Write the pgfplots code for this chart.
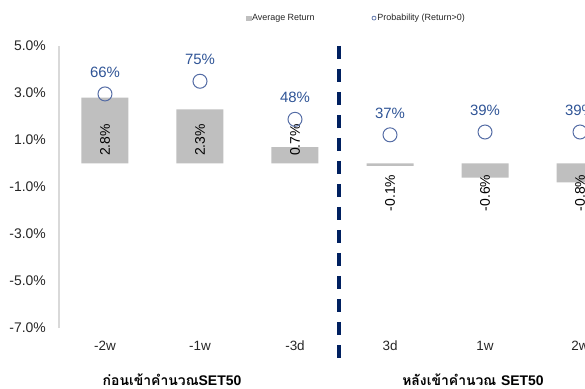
\documentclass[border=0pt]{standalone}
\usepackage{pgfplots}
\pgfplotsset{compat=1.18}
\usepackage{pgfplotstable}
\usepackage{fontspec}
\setmainfont{Liberation Sans}
\newfontfamily\thaifont[Script=Thai]{Loma}

\definecolor{barfill}{RGB}{191,191,191}
\definecolor{probblue}{RGB}{47,84,150}
\definecolor{ringblue}{RGB}{84,108,165}
\definecolor{divnavy}{RGB}{0,32,96}
\definecolor{axisgray}{RGB}{217,217,217}
\definecolor{textgray}{RGB}{38,38,38}

% x: position of the period, ret: average return (%), prob: share of positive returns (%)
\pgfplotstableread{
x ret prob
0 2.8 66
1 2.3 75
2 0.7 48
3 -0.1 37
4 -0.6 39
5 -0.8 39
}\returns

\pgfplotsset{
  common/.style={
    at={(59bp,60bp)}, anchor=south west,
    scale only axis, width=616bp, height=282bp,
    xmin=-0.484, xmax=6,
    /pgf/number format/assume math mode=true,
  },
}

\begin{document}
\begin{tikzpicture}[x=1bp,y=1bp]
\path[use as bounding box, clip] (0,0) rectangle (585,388);

% returns, on the left axis
\begin{axis}[
  common,
  ymin=-7, ymax=5,
  axis y line=left, axis x line=bottom,
  axis line style={-},
  y axis line style={draw=axisgray, line width=1.5bp},
  x axis line style={draw=none},
  ytick={-7,-5,...,5},
  xtick={0,...,5},
  xticklabels={-2w,-1w,-3d,3d,1w,2w},
  major tick length=0pt,
  yticklabel={\pgfmathprintnumber[fixed,fixed zerofill,precision=1]{\tick}\%},
  yticklabel style={font=\fontsize{14}{16}\selectfont, text=textgray, anchor=east, inner sep=0pt, xshift=-13bp},
  xticklabel style={font=\fontsize{13.5}{16}\selectfont, text=textgray, anchor=center, inner sep=0pt, yshift=-18bp},
  clip mode=individual,
  every node near coord/.append style={font=\fontsize{14}{16}\selectfont, text=black, rotate=90, inner sep=0pt},
]
\addplot[ybar, bar width=47bp, fill=barfill, draw=none] table[x=x, y=ret] {\returns};

% value labels, set just above the base of the rising bars
\addplot[draw=none, mark=none, point meta=explicit,
  restrict expr to domain={\thisrow{ret}}{0:100},
  nodes near coords={\pgfmathprintnumber[fixed,fixed zerofill,precision=1]{\pgfplotspointmeta}\%},
  every node near coord/.append style={anchor=west}]
  table[x=x, y expr=0.32, meta=ret] {\returns};

% value labels, set just below the base of the falling bars
\addplot[draw=none, mark=none, point meta=explicit,
  restrict expr to domain={\thisrow{ret}}{-100:0},
  nodes near coords={\pgfmathprintnumber[fixed,fixed zerofill,precision=1]{\pgfplotspointmeta}\%},
  every node near coord/.append style={anchor=east}]
  table[x=x, y expr=-0.47, meta=ret] {\returns};

% divider between the periods before and after inclusion
\draw[divnavy, line width=3.5bp, dash pattern=on 13bp off 10bp]
  (axis cs:2.463,5) -- (axis cs:2.463,-8.6);
\end{axis}

% probability of a positive return, on a hidden right axis
\begin{axis}[
  common,
  ymin=-100, ymax=100,
  hide axis,
  clip=false,
  legend columns=2,
  legend style={at={(0.3036,1.099)}, anchor=west, draw=none, fill=none,
    inner sep=0pt, font=\fontsize{9}{11}\selectfont, text=textgray,
    nodes={inner xsep=1bp, inner ysep=0pt},
    /tikz/every even column/.append style={column sep=56bp}},
]
\addlegendimage{legend image code/.code={\fill[barfill] (0bp,-2.2bp) rectangle (4.4bp,2.2bp);}}
\addlegendentry{Average Return}
\addplot[only marks, mark=o, mark size=7bp, ringblue, line width=1bp,
  point meta=explicit,
  nodes near coords={\pgfmathprintnumber{\pgfplotspointmeta}\%},
  every node near coord/.append style={font=\fontsize{15}{17}\selectfont, text=probblue,
    anchor=south, inner sep=0pt, yshift=16bp},
  legend image code/.code={\draw[ringblue, line width=0.7bp] (2.2bp,0) circle (2bp);}]
  table[x=x, y=prob, meta=prob] {\returns};
\addlegendentry{Probability (Return>0)}
\end{axis}

\node[anchor=base, font=\thaifont\bfseries\fontsize{14}{16}\selectfont, text=black]
  at (172,3) {ก่อนเข้าคำนวณ{\normalfont\bfseries SET50}};
\node[anchor=base, font=\thaifont\bfseries\fontsize{14}{16}\selectfont, text=black]
  at (473,3) {หลังเข้าคำนวณ {\normalfont\bfseries SET50}};
\end{tikzpicture}
\end{document}
